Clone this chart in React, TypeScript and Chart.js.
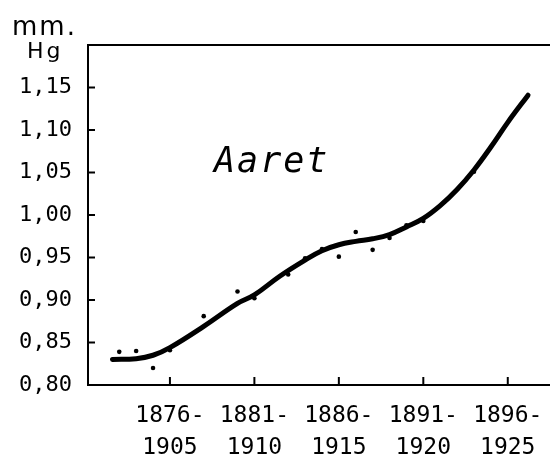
import React, { useEffect, useRef } from "react";
import { Chart, registerables } from "chart.js";

Chart.register(...registerables);

// Smoothed curve (30-year running means)
const curveYears = [1872.6, 1874, 1875, 1876, 1878, 1880, 1881, 1882.5, 1884, 1885, 1886, 1887, 1888, 1889, 1890, 1891, 1892, 1893, 1894, 1895, 1896, 1897.2];
const curveValues = [0.830, 0.831, 0.835, 0.844, 0.869, 0.896, 0.906, 0.928, 0.947, 0.958, 0.965, 0.969, 0.972, 0.977, 0.986, 0.996, 1.011, 1.030, 1.053, 1.080, 1.109, 1.141];

// Individual observed points
const pointYears = [1873, 1874, 1875, 1876, 1878, 1880, 1881, 1883, 1884, 1885, 1886, 1887, 1888, 1889, 1890, 1891, 1894];
const pointValues = [0.839, 0.840, 0.820, 0.841, 0.881, 0.910, 0.902, 0.930, 0.949, 0.960, 0.951, 0.980, 0.959, 0.973, 0.988, 0.993, 1.051];

// Axis ticks
const xTickValues = [1876, 1881, 1886, 1891, 1896];
const xTickLabels = [["1876-", "1905"], ["1881-", "1910"], ["1886-", "1915"], ["1891-", "1920"], ["1896-", "1925"]];
const yTickValues = [0.80, 0.85, 0.90, 0.95, 1.00, 1.05, 1.10, 1.15];
const yTickLabels = ["0,80", "0,85", "0,90", "0,95", "1,00", "1,05", "1,10", "1,15"];

const unitLine1 = "mm.";
const unitLine2 = "Hg";
const chartLabel = "Aaret";

const decorPlugin = {
  id: "decor",
  afterDraw(chart: any) {
    const { ctx, chartArea, scales } = chart;
    const xs = scales.x;
    const ys = scales.y;
    ctx.save();
    ctx.strokeStyle = "#000";
    ctx.lineWidth = 2;
    // top frame line
    ctx.beginPath();
    ctx.moveTo(chartArea.left - 1, chartArea.top);
    ctx.lineTo(chartArea.right, chartArea.top);
    ctx.stroke();
    // inner y ticks
    ys.ticks.forEach((t: any) => {
      const py = ys.getPixelForValue(t.value);
      if (Math.abs(py - chartArea.bottom) < 2) return;
      ctx.beginPath();
      ctx.moveTo(chartArea.left, py);
      ctx.lineTo(chartArea.left + 7, py);
      ctx.stroke();
    });
    // inner x ticks
    xs.ticks.forEach((t: any) => {
      const px = xs.getPixelForValue(t.value);
      ctx.beginPath();
      ctx.moveTo(px, chartArea.bottom);
      ctx.lineTo(px, chartArea.bottom - 8);
      ctx.stroke();
    });
    // texts
    ctx.fillStyle = "#000";
    ctx.textBaseline = "alphabetic";
    ctx.textAlign = "left";
    try { (ctx as any).letterSpacing = "2px"; } catch (e) {}
    ctx.font = '26px "DejaVu Sans"';
    ctx.fillText(unitLine1, 12, 35);
    ctx.font = '22px "DejaVu Sans"';
    try { (ctx as any).letterSpacing = "3px"; } catch (e) {}
    ctx.fillText(unitLine2, 27, 58);
    try { (ctx as any).letterSpacing = "2px"; } catch (e) {}
    ctx.font = 'italic 35px "DejaVu Sans Mono"';
    ctx.fillText(chartLabel, 214, 172);
    try { (ctx as any).letterSpacing = "0px"; } catch (e) {}
    ctx.restore();
  },
};

export default function App() {
  const canvasRef = useRef<HTMLCanvasElement | null>(null);

  useEffect(() => {
    const canvas = canvasRef.current;
    if (!canvas) return;
    const chart = new Chart(canvas, {
      type: "scatter",
      data: {
        datasets: [
          {
            type: "line",
            data: curveYears.map((x, i) => ({ x, y: curveValues[i] })),
            borderColor: "#000",
            borderWidth: 5,
            borderCapStyle: "round",
            borderJoinStyle: "round",
            tension: 0.4,
            pointRadius: 0,
            fill: false,
          } as any,
          {
            type: "scatter",
            data: pointYears.map((x, i) => ({ x, y: pointValues[i] })),
            backgroundColor: "#000",
            borderColor: "#000",
            pointRadius: 2.3,
            borderWidth: 0,
          } as any,
        ],
      },
      options: {
        animation: false,
        responsive: false,
        devicePixelRatio: 1,
        layout: { autoPadding: false, padding: { top: 45, right: 0, left: 0, bottom: 0 } },
        plugins: {
          legend: { display: false },
          tooltip: { enabled: false },
          title: { display: false },
        },
        scales: {
          x: {
            type: "linear",
            position: "bottom",
            min: 1871.15,
            max: 1898.5,
            afterBuildTicks: (scale: any) => {
              scale.ticks = xTickValues.map((v) => ({ value: v }));
            },
            afterFit: (scale: any) => {
              scale.height = 73;
              scale.paddingLeft = 0;
              scale.paddingRight = 0;
            },
            grid: { display: false, drawTicks: false },
            border: { display: true, color: "#000", width: 2 },
            ticks: {
              color: "#000",
              padding: 15,
              maxRotation: 0,
              autoSkip: false,
              font: { family: '"DejaVu Sans Mono"', size: 23, lineHeight: 1.4 },
              callback: (value: any) => {
                const i = xTickValues.indexOf(Number(value));
                return i >= 0 ? xTickLabels[i] : "";
              },
            },
          },
          y: {
            type: "linear",
            position: "left",
            min: 0.8,
            max: 1.2,
            afterBuildTicks: (scale: any) => {
              scale.ticks = yTickValues.map((v) => ({ value: v }));
            },
            afterFit: (scale: any) => {
              scale.width = 88;
            },
            grid: { display: false, drawTicks: false },
            border: { display: true, color: "#000", width: 2 },
            ticks: {
              color: "#000",
              padding: 16,
              autoSkip: false,
              font: { family: '"DejaVu Sans Mono"', size: 22 },
              callback: (value: any) => {
                const i = yTickValues.findIndex((v) => Math.abs(v - Number(value)) < 1e-6);
                return i >= 0 ? yTickLabels[i] : "";
              },
            },
          },
        },
      } as any,
      plugins: [decorPlugin],
    });
    return () => chart.destroy();
  }, []);

  return (
    <div style={{ position: "absolute", left: 0, top: 0, width: 550, height: 458, background: "#fff", overflow: "hidden" }}>
      <canvas ref={canvasRef} width={550} height={458} style={{ width: 550, height: 458, display: "block" }} />
    </div>
  );
}
